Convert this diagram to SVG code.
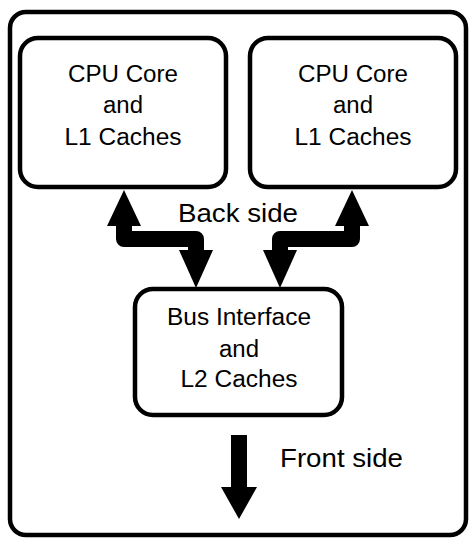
<svg xmlns="http://www.w3.org/2000/svg" width="474" height="548" viewBox="0 0 474 548">
<style>
.box{fill:#fff;stroke:#000;stroke-width:4.5}
.t{font-family:"Liberation Sans",Arial,sans-serif;font-size:23px;fill:#000;text-anchor:middle}
.lbl{font-family:"Liberation Sans",Arial,sans-serif;font-size:25px;fill:#000}
.shaft{fill:none;stroke:#000;stroke-width:16;stroke-linejoin:round}
.head{fill:#000}
</style>
<rect width="474" height="548" fill="#fff"/>
<g id="outer"><rect class="box" x="10" y="12" width="456" height="523" rx="16"/></g>
<g id="cpu1">
<rect class="box" x="20" y="38" width="206" height="149" rx="18"/>
<text class="t" x="123" y="82" textLength="110" lengthAdjust="spacingAndGlyphs">CPU Core</text>
<text class="t" x="123" y="113" textLength="40" lengthAdjust="spacingAndGlyphs">and</text>
<text class="t" x="123" y="145" textLength="117" lengthAdjust="spacingAndGlyphs">L1 Caches</text>
</g>
<g id="cpu2">
<rect class="box" x="250" y="38" width="206" height="149" rx="18"/>
<text class="t" x="353" y="82" textLength="110" lengthAdjust="spacingAndGlyphs">CPU Core</text>
<text class="t" x="353" y="113" textLength="40" lengthAdjust="spacingAndGlyphs">and</text>
<text class="t" x="353" y="145" textLength="117" lengthAdjust="spacingAndGlyphs">L1 Caches</text>
</g>
<g id="bus">
<rect class="box" x="135" y="289" width="207" height="126" rx="18"/>
<text class="t" x="239" y="325" textLength="144" lengthAdjust="spacingAndGlyphs">Bus Interface</text>
<text class="t" x="239" y="357" textLength="40" lengthAdjust="spacingAndGlyphs">and</text>
<text class="t" x="239" y="387" textLength="117" lengthAdjust="spacingAndGlyphs">L2 Caches</text>
</g>
<g id="connectors">
<path class="shaft" d="M124 224 V239 H196 V252"/>
<polygon class="head" points="107,226 141,226 124,190"/>
<polygon class="head" points="179,250 213,250 196,288"/>
<path class="shaft" d="M352 224 V239 H280 V252"/>
<polygon class="head" points="335,226 369,226 352,190"/>
<polygon class="head" points="263,250 297,250 280,288"/>
<rect class="head" x="231" y="435" width="16" height="54"/>
<polygon class="head" points="221,487 257,487 239,519"/>
</g>
<text class="lbl" x="178" y="222" textLength="120" lengthAdjust="spacingAndGlyphs">Back side</text>
<text class="lbl" x="280" y="467" style="font-size:26px" textLength="123" lengthAdjust="spacingAndGlyphs">Front side</text>
</svg>
